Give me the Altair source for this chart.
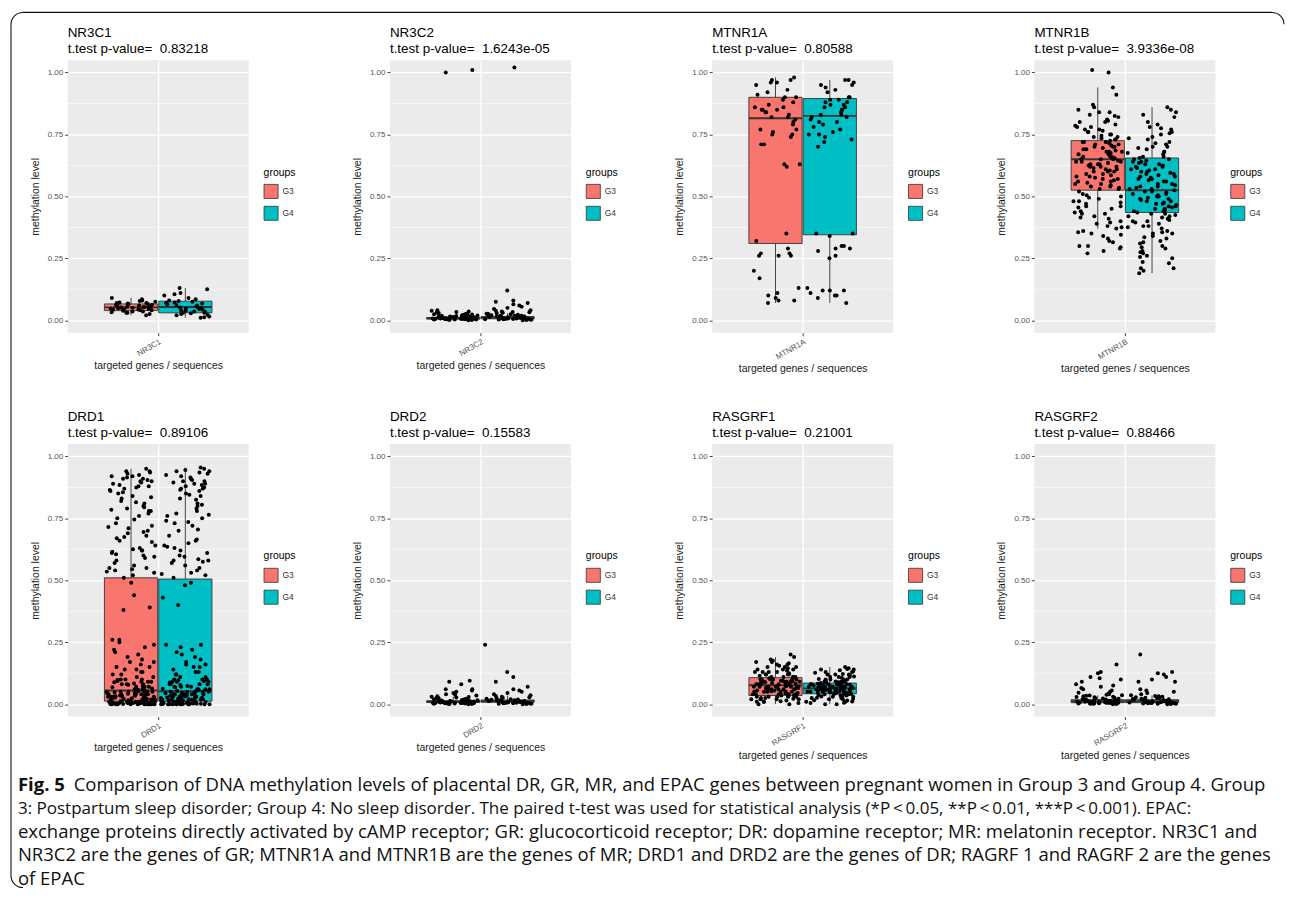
import altair as alt
import pandas as pd

GENES = ["NR3C1", "NR3C2", "MTNR1A", "MTNR1B", "DRD1", "DRD2", "RASGRF1", "RASGRF2"]
PVALUES = ["0.83218", "1.6243e-05", "0.80588", "3.9336e-08", "0.89106", "0.15583", "0.21001", "0.88466"]
GROUPS = ["G3", "G4"]
COLORS = ["#F8766D", "#00BFC4"]

# box statistics: [lower whisker, Q1, median, Q3, upper whisker]
BOX_G3 = {
    "NR3C1": [0.02, 0.039, 0.052, 0.066, 0.09],
    "NR3C2": [0.0, 0.005, 0.008, 0.011, 0.02],
    "MTNR1A": [0.07, 0.31, 0.815, 0.90, 0.98],
    "MTNR1B": [0.37, 0.525, 0.65, 0.725, 0.94],
    "DRD1": [0.0, 0.012, 0.055, 0.51, 0.95],
    "DRD2": [0.0, 0.007, 0.010, 0.014, 0.03],
    "RASGRF1": [0.0, 0.035, 0.076, 0.107, 0.19],
    "RASGRF2": [0.0, 0.006, 0.012, 0.018, 0.035],
}
BOX_G4 = {
    "NR3C1": [0.01, 0.03, 0.054, 0.077, 0.13],
    "NR3C2": [0.0, 0.006, 0.010, 0.015, 0.028],
    "MTNR1A": [0.07, 0.345, 0.825, 0.895, 0.97],
    "MTNR1B": [0.19, 0.435, 0.525, 0.655, 0.86],
    "DRD1": [0.0, 0.012, 0.052, 0.505, 0.955],
    "DRD2": [0.0, 0.008, 0.012, 0.017, 0.035],
    "RASGRF1": [0.0, 0.042, 0.063, 0.085, 0.15],
    "RASGRF2": [0.0, 0.006, 0.012, 0.018, 0.035],
}

NR3C1_G3 = [0.02, 0.025, 0.03, 0.03, 0.032, 0.035, 0.035, 0.038, 0.04, 0.04, 0.042, 0.043, 0.045, 0.045,
            0.047, 0.048, 0.05, 0.05, 0.052, 0.053, 0.053, 0.055, 0.056, 0.057, 0.058, 0.06, 0.06, 0.062,
            0.063, 0.065, 0.066, 0.068, 0.07, 0.07, 0.072, 0.075, 0.078, 0.08, 0.085, 0.09]
NR3C1_G4 = [0.01, 0.012, 0.015, 0.02, 0.022, 0.025, 0.028, 0.03, 0.03, 0.033, 0.035, 0.038, 0.04, 0.042,
            0.045, 0.048, 0.05, 0.052, 0.054, 0.055, 0.057, 0.06, 0.062, 0.065, 0.068, 0.07, 0.072, 0.075,
            0.078, 0.08, 0.085, 0.09, 0.1, 0.105, 0.11, 0.125, 0.13]
NR3C2_G3 = [0.0, 0.001, 0.002, 0.002, 0.003, 0.003, 0.004, 0.004, 0.005, 0.005, 0.005, 0.006, 0.006, 0.006,
            0.007, 0.007, 0.007, 0.008, 0.008, 0.008, 0.009, 0.009, 0.01, 0.01, 0.01, 0.011, 0.011, 0.012,
            0.012, 0.013, 0.014, 0.015, 0.016, 0.017, 0.018, 0.019, 0.02, 0.021, 0.022, 0.024, 0.025, 0.027,
            0.029, 0.031, 0.033, 0.035, 0.038, 0.04, 0.003, 0.006, 0.009, 0.013, 0.017, 0.023, 1.0, 1.01]
NR3C2_G4 = [0.0, 0.001, 0.002, 0.003, 0.003, 0.004, 0.005, 0.005, 0.006, 0.006, 0.007, 0.007, 0.008, 0.008,
            0.009, 0.009, 0.01, 0.01, 0.011, 0.011, 0.012, 0.012, 0.013, 0.014, 0.015, 0.016, 0.017, 0.018,
            0.019, 0.02, 0.022, 0.024, 0.026, 0.028, 0.03, 0.032, 0.035, 0.038, 0.04, 0.045, 0.05, 0.055,
            0.06, 0.065, 0.07, 0.075, 0.08, 0.12, 0.004, 0.008, 0.012, 0.018, 0.025, 0.033, 1.02]
MTNR1A_G3 = [0.97, 0.98, 0.96, 0.97, 0.95, 0.96, 0.93, 0.92, 0.90, 0.90, 0.91, 0.89, 0.88, 0.87, 0.86, 0.85,
             0.85, 0.84, 0.84, 0.83, 0.82, 0.82, 0.81, 0.80, 0.79, 0.86, 0.85, 0.77, 0.77, 0.76, 0.75, 0.75,
             0.74, 0.71, 0.71, 0.63, 0.63, 0.62, 0.35, 0.32, 0.29, 0.27, 0.27, 0.26, 0.26, 0.26, 0.20, 0.17,
             0.13, 0.11, 0.10, 0.09, 0.08, 0.08, 0.07]
MTNR1A_G4 = [0.97, 0.97, 0.96, 0.95, 0.95, 0.94, 0.93, 0.92, 0.90, 0.90, 0.89, 0.89, 0.88, 0.88, 0.87, 0.87,
             0.86, 0.86, 0.85, 0.85, 0.84, 0.83, 0.83, 0.82, 0.82, 0.81, 0.80, 0.80, 0.79, 0.78, 0.77, 0.76,
             0.75, 0.75, 0.74, 0.73, 0.72, 0.70, 0.35, 0.35, 0.34, 0.30, 0.30, 0.29, 0.29, 0.28, 0.26, 0.25,
             0.13, 0.12, 0.12, 0.12, 0.11, 0.10, 0.10, 0.09, 0.07]
MTNR1B_G3 = [0.94, 0.91, 0.87, 0.86, 0.85, 0.84, 0.84, 0.83, 0.82, 0.81, 0.80, 0.80, 0.79, 0.78, 0.78, 0.77,
             0.77, 0.76, 0.76, 0.75, 0.75, 0.74, 0.74, 0.73, 0.73, 0.72, 0.72, 0.72, 0.71, 0.71, 0.70, 0.70,
             0.70, 0.69, 0.69, 0.68, 0.68, 0.68, 0.67, 0.67, 0.66, 0.66, 0.66, 0.65, 0.65, 0.65, 0.64, 0.64,
             0.64, 0.63, 0.63, 0.63, 0.62, 0.62, 0.62, 0.61, 0.61, 0.60, 0.60, 0.60, 0.59, 0.59, 0.58, 0.58,
             0.57, 0.57, 0.56, 0.56, 0.55, 0.55, 0.54, 0.54, 0.53, 0.53, 0.52, 0.51, 0.50, 0.49, 0.48, 0.48,
             0.47, 0.46, 0.46, 0.45, 0.44, 0.43, 0.43, 0.42, 0.41, 0.40, 0.39, 0.38, 0.37, 0.36, 0.35, 0.34,
             0.33, 0.32, 0.30, 0.30, 0.29, 0.28, 0.27, 1.0, 1.01,
             0.655, 0.645, 0.635, 0.625, 0.615, 0.605, 0.675, 0.685, 0.695, 0.705, 0.715, 0.725, 0.735,
             0.585, 0.575, 0.565, 0.555, 0.545, 0.535, 0.745, 0.765, 0.785, 0.805, 0.825, 0.505, 0.495,
             0.475, 0.455, 0.435, 0.415, 0.395, 0.375, 0.355, 0.345, 0.315, 0.295]
MTNR1B_G4 = [0.86, 0.85, 0.84, 0.83, 0.82, 0.80, 0.79, 0.78, 0.77, 0.76, 0.75, 0.74, 0.73, 0.72, 0.71, 0.70,
             0.70, 0.69, 0.68, 0.68, 0.67, 0.66, 0.66, 0.65, 0.65, 0.64, 0.64, 0.63, 0.63, 0.62, 0.62, 0.61,
             0.61, 0.60, 0.60, 0.59, 0.59, 0.58, 0.58, 0.57, 0.57, 0.56, 0.56, 0.55, 0.55, 0.54, 0.54, 0.53,
             0.53, 0.52, 0.52, 0.51, 0.51, 0.50, 0.50, 0.49, 0.49, 0.48, 0.48, 0.47, 0.47, 0.46, 0.46, 0.45,
             0.45, 0.44, 0.44, 0.43, 0.43, 0.42, 0.42, 0.41, 0.40, 0.40, 0.39, 0.38, 0.38, 0.37, 0.36, 0.35,
             0.35, 0.34, 0.33, 0.32, 0.31, 0.30, 0.29, 0.28, 0.27, 0.26, 0.25, 0.23, 0.21, 0.21, 0.20, 0.19,
             0.545, 0.535, 0.525, 0.515, 0.505, 0.495, 0.485, 0.475, 0.465, 0.455, 0.445, 0.435, 0.425,
             0.415, 0.405, 0.565, 0.575, 0.585, 0.595, 0.605, 0.615, 0.625, 0.635, 0.645, 0.655, 0.675,
             0.695, 0.715, 0.735, 0.755, 0.775, 0.395, 0.375, 0.355, 0.335, 0.315, 0.295, 0.275, 0.255, 0.235]
DRD1_G3 = [0.95, 0.94, 0.94, 0.93, 0.92, 0.92, 0.91, 0.91, 0.90, 0.90, 0.89, 0.88, 0.88, 0.87, 0.86, 0.85,
           0.84, 0.83, 0.82, 0.81, 0.80, 0.79, 0.78, 0.78, 0.77, 0.76, 0.75, 0.73, 0.72, 0.71, 0.70, 0.69,
           0.68, 0.67, 0.66, 0.64, 0.63, 0.62, 0.62, 0.61, 0.60, 0.59, 0.58, 0.57, 0.56, 0.55, 0.55, 0.54,
           0.53, 0.52, 0.51, 0.49, 0.44, 0.39, 0.38,
           0.935, 0.925, 0.915, 0.905, 0.895, 0.885, 0.875, 0.865, 0.855, 0.835, 0.815, 0.795, 0.785,
           0.745, 0.715, 0.695, 0.675, 0.655, 0.625, 0.615, 0.605, 0.595, 0.545, 0.535,
           0.26, 0.26, 0.25, 0.24, 0.23, 0.22, 0.21, 0.20, 0.19, 0.18, 0.17, 0.17, 0.16, 0.15, 0.15, 0.14,
           0.14, 0.13, 0.13, 0.12, 0.12, 0.11, 0.11, 0.10, 0.10, 0.10, 0.09, 0.09, 0.09, 0.08, 0.08, 0.08,
           0.07, 0.07, 0.07, 0.07, 0.06, 0.06, 0.06, 0.06, 0.05, 0.05, 0.05, 0.05, 0.05, 0.045, 0.04, 0.04,
           0.04, 0.04, 0.035, 0.03, 0.03, 0.03, 0.03, 0.03, 0.025, 0.02, 0.02, 0.02, 0.02, 0.02, 0.02, 0.015,
           0.015, 0.01, 0.01, 0.01, 0.01, 0.01, 0.01, 0.01, 0.008, 0.008, 0.006, 0.006, 0.005, 0.005, 0.005,
           0.004, 0.004, 0.003, 0.003, 0.002, 0.002, 0.001, 0.001, 0.0, 0.0, 0.0, 0.0, 0.0, 0.0, 0.0, 0.0, 0.0,
           0.003, 0.007, 0.012, 0.018, 0.022, 0.028, 0.033, 0.038, 0.043, 0.048, 0.052, 0.058, 0.063, 0.068,
           0.072, 0.078, 0.083, 0.088, 0.093, 0.098, 0.002, 0.006, 0.011, 0.016, 0.021, 0.027, 0.032, 0.037,
           0.042, 0.047, 0.0, 0.0, 0.001, 0.004, 0.009, 0.014, 0.019, 0.024, 0.029, 0.034]
DRD1_G4 = [0.955, 0.95, 0.94, 0.94, 0.93, 0.92, 0.91, 0.90, 0.90, 0.89, 0.89, 0.88, 0.87, 0.87, 0.86, 0.85,
           0.84, 0.83, 0.81, 0.80, 0.79, 0.78, 0.77, 0.76, 0.75, 0.74, 0.73, 0.72, 0.70, 0.68, 0.66, 0.65,
           0.64, 0.63, 0.62, 0.61, 0.60, 0.58, 0.58, 0.57, 0.56, 0.55, 0.54, 0.53, 0.52, 0.51,
           0.49, 0.48, 0.43, 0.40,
           0.945, 0.935, 0.925, 0.915, 0.905, 0.895, 0.885, 0.875, 0.865, 0.845, 0.825, 0.805, 0.765,
           0.735, 0.705, 0.665, 0.635, 0.595, 0.585, 0.575, 0.525,
           0.24, 0.24, 0.23, 0.22, 0.21, 0.20, 0.19, 0.18, 0.17, 0.16, 0.16, 0.15, 0.15, 0.14, 0.13, 0.13,
           0.12, 0.12, 0.11, 0.11, 0.10, 0.10, 0.10, 0.09, 0.09, 0.09, 0.08, 0.08, 0.08, 0.07, 0.07, 0.07,
           0.06, 0.06, 0.06, 0.06, 0.05, 0.05, 0.05, 0.05, 0.045, 0.04, 0.04, 0.04, 0.04, 0.035, 0.03, 0.03,
           0.03, 0.03, 0.025, 0.02, 0.02, 0.02, 0.02, 0.02, 0.015, 0.015, 0.01, 0.01, 0.01, 0.01, 0.01, 0.01,
           0.008, 0.008, 0.006, 0.006, 0.005, 0.005, 0.005, 0.004, 0.004, 0.003, 0.003, 0.002, 0.002, 0.001,
           0.001, 0.0, 0.0, 0.0, 0.0, 0.0, 0.0, 0.0, 0.0, 0.0, 0.0,
           0.002, 0.006, 0.011, 0.017, 0.023, 0.027, 0.031, 0.036, 0.041, 0.046, 0.053, 0.057, 0.062,
           0.067, 0.073, 0.077, 0.082, 0.087, 0.092, 0.097, 0.003, 0.008, 0.013, 0.018, 0.024, 0.028,
           0.033, 0.039, 0.044, 0.049, 0.0, 0.0, 0.001, 0.005, 0.009, 0.014, 0.019, 0.022, 0.026, 0.035]
DRD2_G3 = [0.0, 0.001, 0.001, 0.002, 0.002, 0.003, 0.003, 0.004, 0.004, 0.005, 0.005, 0.005, 0.006, 0.006,
           0.006, 0.007, 0.007, 0.007, 0.008, 0.008, 0.008, 0.009, 0.009, 0.009, 0.01, 0.01, 0.01, 0.011,
           0.011, 0.012, 0.012, 0.013, 0.013, 0.014, 0.015, 0.016, 0.017, 0.018, 0.019, 0.02, 0.021, 0.022,
           0.024, 0.025, 0.027, 0.029, 0.03, 0.032, 0.035, 0.038, 0.04, 0.045, 0.05, 0.055, 0.06, 0.06,
           0.08, 0.09, 0.095]
DRD2_G4 = [0.0, 0.001, 0.002, 0.002, 0.003, 0.004, 0.004, 0.005, 0.005, 0.006, 0.006, 0.007, 0.007, 0.008,
           0.008, 0.009, 0.009, 0.01, 0.01, 0.011, 0.011, 0.012, 0.012, 0.013, 0.013, 0.014, 0.015, 0.016,
           0.017, 0.018, 0.019, 0.02, 0.022, 0.024, 0.026, 0.028, 0.03, 0.033, 0.036, 0.04, 0.045, 0.05,
           0.055, 0.06, 0.07, 0.09, 0.11, 0.13, 0.24]
RASGRF1_G3 = [0.20, 0.19, 0.18, 0.17, 0.17, 0.16, 0.16, 0.15, 0.15, 0.15, 0.14, 0.14, 0.14, 0.13, 0.13, 0.13,
              0.13, 0.12, 0.12, 0.12, 0.12, 0.11, 0.11, 0.11, 0.11, 0.11, 0.10, 0.10, 0.10, 0.10, 0.10, 0.10,
              0.09, 0.09, 0.09, 0.09, 0.09, 0.09, 0.08, 0.08, 0.08, 0.08, 0.08, 0.08, 0.08, 0.07, 0.07, 0.07,
              0.07, 0.07, 0.07, 0.07, 0.06, 0.06, 0.06, 0.06, 0.06, 0.06, 0.05, 0.05, 0.05, 0.05, 0.05, 0.05,
              0.04, 0.04, 0.04, 0.04, 0.04, 0.04, 0.03, 0.03, 0.03, 0.03, 0.03, 0.02, 0.02, 0.02, 0.02, 0.01,
              0.01, 0.01, 0.005, 0.0, 0.0, 0.115, 0.095, 0.085, 0.075, 0.065, 0.055, 0.045, 0.035, 0.025,
              0.105, 0.095, 0.085, 0.075, 0.065, 0.055, 0.045, 0.035, 0.025, 0.015, 0.102, 0.092, 0.082,
              0.072, 0.062, 0.052, 0.042, 0.032, 0.022, 0.012, 0.125, 0.135, 0.145, 0.155, 0.165, 0.175,
              0.098, 0.088, 0.078, 0.068]
RASGRF1_G4 = [0.15, 0.145, 0.14, 0.14, 0.13, 0.13, 0.12, 0.12, 0.12, 0.11, 0.11, 0.11, 0.10, 0.10, 0.10,
              0.10, 0.09, 0.09, 0.09, 0.09, 0.09, 0.085, 0.085, 0.08, 0.08, 0.08, 0.08, 0.08, 0.075, 0.075,
              0.07, 0.07, 0.07, 0.07, 0.07, 0.07, 0.065, 0.065, 0.065, 0.06, 0.06, 0.06, 0.06, 0.06, 0.06,
              0.055, 0.055, 0.055, 0.05, 0.05, 0.05, 0.05, 0.05, 0.045, 0.045, 0.045, 0.04, 0.04, 0.04, 0.04,
              0.035, 0.035, 0.03, 0.03, 0.03, 0.025, 0.025, 0.02, 0.02, 0.015, 0.01, 0.01, 0.005, 0.0, 0.0,
              0.062, 0.058, 0.052, 0.068, 0.072, 0.078, 0.048, 0.042, 0.088,
              0.082, 0.076, 0.071, 0.066, 0.061, 0.056, 0.051, 0.046, 0.041, 0.036, 0.031, 0.026, 0.021,
              0.016, 0.011, 0.006, 0.092, 0.097, 0.102, 0.107, 0.112, 0.117, 0.122, 0.127, 0.132, 0.137,
              0.142, 0.086, 0.079, 0.064]
RASGRF2_G3 = [0.0, 0.001, 0.002, 0.003, 0.003, 0.004, 0.005, 0.005, 0.006, 0.006, 0.007, 0.008, 0.008,
              0.009, 0.01, 0.01, 0.011, 0.012, 0.012, 0.013, 0.014, 0.015, 0.016, 0.017, 0.018, 0.019, 0.02,
              0.021, 0.022, 0.024, 0.026, 0.028, 0.03, 0.032, 0.034, 0.036, 0.038, 0.04, 0.043, 0.046, 0.05,
              0.055, 0.06, 0.065, 0.07, 0.075, 0.08, 0.09, 0.1, 0.105, 0.11, 0.125, 0.13, 0.16, 0.002, 0.004,
              0.007, 0.009, 0.011, 0.014, 0.018, 0.023, 0.029, 0.035]
RASGRF2_G4 = [0.0, 0.001, 0.002, 0.003, 0.004, 0.004, 0.005, 0.006, 0.006, 0.007, 0.008, 0.008, 0.009,
              0.01, 0.01, 0.011, 0.012, 0.012, 0.013, 0.014, 0.015, 0.016, 0.017, 0.018, 0.02, 0.021, 0.022,
              0.024, 0.026, 0.028, 0.03, 0.033, 0.036, 0.04, 0.045, 0.05, 0.055, 0.06, 0.09, 0.09, 0.1, 0.11,
              0.12, 0.125, 0.13, 0.2, 0.002, 0.005, 0.007, 0.009, 0.011, 0.014, 0.019, 0.025, 0.032]

POINTS_G3 = {"NR3C1": NR3C1_G3, "NR3C2": NR3C2_G3, "MTNR1A": MTNR1A_G3, "MTNR1B": MTNR1B_G3,
             "DRD1": DRD1_G3, "DRD2": DRD2_G3, "RASGRF1": RASGRF1_G3, "RASGRF2": RASGRF2_G3}
POINTS_G4 = {"NR3C1": NR3C1_G4, "NR3C2": NR3C2_G4, "MTNR1A": MTNR1A_G4, "MTNR1B": MTNR1B_G4,
             "DRD1": DRD1_G4, "DRD2": DRD2_G4, "RASGRF1": RASGRF1_G4, "RASGRF2": RASGRF2_G4}

Y_TICKS = [0.0, 0.25, 0.5, 0.75, 1.0]
Y_MINOR = [0.125, 0.375, 0.625, 0.875]

CAPTION_HEAD = "Fig. 5"
CAPTION_LINES = [
    "Comparison of DNA methylation levels of placental DR, GR, MR, and EPAC genes between pregnant women in Group 3 and Group 4. Group",
    "3: Postpartum sleep disorder; Group 4: No sleep disorder. The paired t-test was used for statistical analysis (*P\u2009<\u20090.05, **P\u2009<\u20090.01, ***P\u2009<\u20090.001). EPAC:",
    "exchange proteins directly activated by cAMP receptor; GR: glucocorticoid receptor; DR: dopamine receptor; MR: melatonin receptor. NR3C1 and",
    "NR3C2 are the genes of GR; MTNR1A and MTNR1B are the genes of MR; DRD1 and DRD2 are the genes of DR; RAGRF 1 and RAGRF 2 are the genes",
    "of EPAC",
]

FONT = "Liberation Sans"
CAP_FONT = "Open Sans"
CAP_SIZE = 18.6
CAP_SIZE_LONG = 17.1

# ---------- tables ----------
pt_rows = []
for gene in GENES:
    for grp, src in (("G3", POINTS_G3), ("G4", POINTS_G4)):
        for i, v in enumerate(src[gene]):
            pt_rows.append({"gene": gene, "group": grp, "idx": i, "value": v})
points_df = pd.DataFrame(pt_rows)

bx_rows = []
for gene in GENES:
    for grp, src in (("G3", BOX_G3), ("G4", BOX_G4)):
        lo, q1, med, q3, hi = src[gene]
        bx_rows.append({"gene": gene, "group": grp, "lo": lo, "q1": q1, "med": med, "q3": q3, "hi": hi})
box_df = pd.DataFrame(bx_rows)
minor_df = pd.DataFrame({"v": Y_MINOR})

PW, PH = 182, 274
DODGE = "(datum.group == 'G3' ? 0.35 : 0.65)"
JITTER = "(abs(sin(datum.idx * 12.9898 + (datum.group == 'G3' ? 1.7 : 5.3)) * 43758.5453) % 1)"


def panel(k):
    gene = GENES[k]
    xs = alt.Scale(domain=[0, 1], nice=False, zero=False)
    ys = alt.Scale(domain=[-0.05, 1.05], nice=False, zero=False)
    xaxis = alt.Axis(values=[0.5], labelExpr=f"'{gene}'", title="targeted genes / sequences",
                     grid=True, gridColor="white", gridWidth=1.3, labelAngle=330, labelAlign="right",
                     labelBaseline="top", tickSize=3, labelPadding=2, titlePadding=3)
    yaxis = alt.Axis(values=Y_TICKS, format=".2f", title="methylation level", grid=True,
                     gridColor="white", gridWidth=1.3, tickSize=3, labelPadding=2, titlePadding=7)

    minor = alt.Chart(minor_df).mark_rule(color="white", strokeWidth=0.6).encode(
        y=alt.Y("v:Q", scale=ys, axis=yaxis))

    bsrc = alt.Chart(box_df[box_df.gene == gene]).transform_calculate(
        xc=DODGE, xl=f"{DODGE} - 0.147", xr=f"{DODGE} + 0.147")
    whisk = bsrc.mark_rule(color="#333333", strokeWidth=0.9).encode(
        x=alt.X("xc:Q", scale=xs, axis=xaxis), y=alt.Y("lo:Q", scale=ys, axis=yaxis), y2="hi:Q")
    box = bsrc.mark_rect(stroke="#333333", strokeWidth=0.9).encode(
        x=alt.X("xl:Q", scale=xs, axis=xaxis), x2="xr:Q",
        y=alt.Y("q1:Q", scale=ys, axis=yaxis), y2="q3:Q",
        color=alt.Color("group:N", scale=alt.Scale(domain=GROUPS, range=COLORS),
                        legend=alt.Legend(title="groups", orient="none", legendX=197, legendY=108,
                                          symbolType="square", symbolSize=200,
                                          symbolStrokeColor="#333333", symbolStrokeWidth=0.8,
                                          labelFontSize=8.5, titleFontSize=10.5, labelColor="#333333",
                                          titleColor="#000000", titleFontWeight="normal",
                                          rowPadding=3, titlePadding=6, labelFont=FONT,
                                          titleFont=FONT)))
    med = bsrc.mark_rule(color="#333333", strokeWidth=2).encode(
        x=alt.X("xl:Q", scale=xs, axis=xaxis), x2="xr:Q", y=alt.Y("med:Q", scale=ys, axis=yaxis))

    pts = alt.Chart(points_df[points_df.gene == gene]).transform_calculate(
        jx=f"{DODGE} + 0.27 * ({JITTER} - 0.5)").mark_circle(
        size=16, color="black", opacity=1).encode(
        x=alt.X("jx:Q", scale=xs, axis=xaxis), y=alt.Y("value:Q", scale=ys, axis=yaxis))

    return alt.layer(minor, whisk, box, med, pts).properties(
        width=PW, height=PH,
        title=alt.TitleParams(text=[gene, f"t.test p-value=\u00a0 {PVALUES[k]}"], anchor="start",
                              frame="group", fontSize=13.5, font=FONT, fontWeight="normal",
                              lineHeight=16, offset=5, color="#000000"))


panels = [panel(k) for k in range(8)]

# ---------- caption cell (also carries the figure frame) ----------
cap_df = pd.DataFrame({"i": list(range(len(CAPTION_LINES))), "text": CAPTION_LINES})
cap_y = alt.Y("i:Q", axis=None, scale=alt.Scale(domain=[0, 4], range=[-43, 51]))
cap_size = alt.condition(alt.datum.i == 1, alt.value(CAP_SIZE_LONG), alt.value(CAP_SIZE))
cap_rest = alt.Chart(cap_df[cap_df.i > 0]).mark_text(
    align="left", baseline="middle", font=CAP_FONT, color="#111111").encode(
    y=cap_y, x=alt.value(-50), text="text:N", size=cap_size)
cap_first = alt.Chart(cap_df[cap_df.i == 0]).mark_text(
    align="left", baseline="middle", font=CAP_FONT, fontSize=CAP_SIZE, color="#111111").encode(
    y=cap_y, x=alt.value(6), text="text:N")
cap_head = alt.Chart(pd.DataFrame({"i": [0], "text": [CAPTION_HEAD]})).mark_text(
    align="left", baseline="middle", font=CAP_FONT, fontSize=CAP_SIZE, fontWeight="bold",
    color="#111111").encode(y=cap_y, x=alt.value(-50), text="text:N")

one = alt.Chart(pd.DataFrame({"a": [0]}))
frame = [
    one.mark_rule(color="#111111", strokeWidth=1.1).encode(
        x=alt.value(-45), x2=alt.value(1211), y=alt.value(-820)),
    one.mark_rule(color="#111111", strokeWidth=1.1).encode(
        x=alt.value(-57), y=alt.value(-808), y2=alt.value(48)),
    one.mark_arc(color="#111111").encode(
        x=alt.value(-45), y=alt.value(-808), theta=alt.value(4.7124), theta2=alt.value(6.2832),
        radius=alt.value(12.5), radius2=alt.value(11.4)),
    one.mark_arc(color="#111111").encode(
        x=alt.value(1211), y=alt.value(-808), theta=alt.value(0), theta2=alt.value(1.5708),
        radius=alt.value(12.5), radius2=alt.value(11.4)),
    one.mark_arc(color="#111111").encode(
        x=alt.value(-45), y=alt.value(48), theta=alt.value(3.1416), theta2=alt.value(4.7124),
        radius=alt.value(12.5), radius2=alt.value(11.4)),
]
caption = alt.layer(cap_head, cap_first, cap_rest, *frame).properties(
    width=PW, height=50, view=alt.ViewBackground(fill="transparent", stroke="transparent"))

chart = alt.concat(*panels, caption, columns=4, spacing={"row": 112, "column": 142},
                   bounds="flush").resolve_scale(color="independent").resolve_legend(
    color="independent").properties(
    padding={"left": 1, "top": 0, "right": 2, "bottom": 2}, background="white"
).configure_view(fill="#EBEBEB", stroke=None).configure_axis(
    labelFont=FONT, titleFont=FONT, labelColor="#555555", titleColor="#1A1A1A",
    tickColor="#444444", domain=False, labelFontSize=8, titleFontSize=10.5,
    titleFontWeight="normal")

chart.save("out.html", embed_options={"renderer": "svg", "actions": False})
